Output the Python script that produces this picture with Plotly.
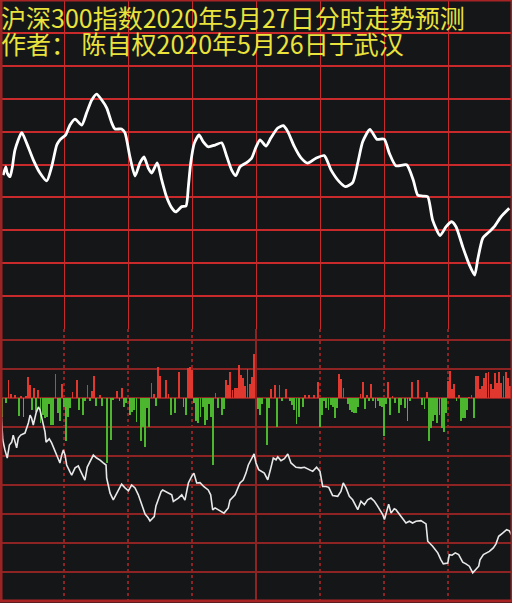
import plotly.graph_objects as go

# ---------------- data ----------------
title_line1 = "沪深300指数2020年5月27日分时走势预测"
title_line2 = "作者： 陈自权2020年5月26日于武汉"

# Upper panel: predicted intraday trend (grid units, 0..100, one grid = 10)
top_minutes = [1.5, 2.7, 3.4, 4.7, 5.8, 7.0, 10.2, 12.5, 15.6, 18.75, 21.9, 24.2, 26.6, 28.1,
               30.8, 32.8, 35.2, 38.3, 40.6, 43.0, 45.3, 47.7, 50.0, 52.4, 53.9, 57.0, 58.6,
               60.9, 63.3, 65.6, 67.5, 69.5, 71.1, 73.7, 75.8, 78.1, 80.5, 82.4, 85.2, 87.2,
               88.3, 89.4, 91.1, 93.3, 95.3, 97.6, 100.8, 103.9, 106.3, 108.6, 110.5, 112.5,
               115.6, 118.0, 120.0, 121.9, 124.7, 127.0, 130.2, 132.8, 134.9, 138.0, 141.1,
               144.2, 148.1, 152.0, 155.2, 159.0, 161.9, 165.3, 167.7, 170.0, 173.4, 176.6,
               180.1, 182.5, 185.6, 190.6, 193.7, 195.8, 198.1, 200.5, 202.8, 206.3, 209.1,
               211.7, 213.75, 216.9, 220.0, 222.5, 223.9, 226.3, 229.4, 231.7, 234.8, 238.7]
top_values = [46.8, 49.3, 47.4, 46.3, 49.3, 54.4, 59.7, 56.5, 51.4, 47.4, 45.0, 49.3, 55.9, 57.5,
              59.0, 62.0, 63.8, 62.0, 65.7, 69.6, 71.4, 69.6, 67.2, 62.6, 60.8, 60.8, 59.6,
              52.3, 46.5, 50.5, 52.3, 48.9, 47.4, 50.5, 45.3, 40.1, 36.8, 35.6, 37.2, 37.4,
              43.3, 50.5, 56.5, 59.0, 56.9, 55.4, 55.9, 56.6, 52.4, 48.3, 46.6, 49.3,
              50.6, 52.0, 55.3, 57.5, 55.6, 58.1, 61.1, 61.8, 60.0, 55.4, 52.0,
              50.4, 51.9, 52.7, 48.3, 44.8, 43.3, 44.5, 50.4, 56.9, 60.7, 57.7,
              57.7, 53.4, 49.6, 49.9, 45.3, 40.7, 40.4, 40.2, 33.1, 28.4, 31.1,
              32.6, 31.1, 25.0, 19.5, 16.4, 21.0, 27.6, 29.6, 31.1, 34.1, 36.7]

# Lower panel: per-minute buy/sell bars (grid units)
bar_minutes = [1, 3, 4, 5, 7, 9, 10, 11, 12, 13, 14, 15, 16, 17, 18, 19, 20, 21, 22, 23, 24, 25,
               26, 27, 28, 29, 30, 31, 32, 33, 34, 36, 37, 39, 40, 41, 42, 43, 44, 45, 47, 48,
               50, 52, 53, 55, 56, 57, 58, 59,
               61, 62, 63, 64, 66, 67, 68, 69, 70, 71, 72, 73, 74, 75, 78, 79, 80, 82, 84, 86,
               87, 88, 89, 90, 91, 92, 93, 94, 95, 96, 97, 98, 99, 100, 101, 102, 104, 105, 106,
               107, 108, 109, 110, 111, 112, 113, 114, 115, 116, 117, 118, 119,
               121, 122, 123, 125, 126, 127, 129, 130, 131, 132, 134, 136, 137, 138, 139, 140,
               142, 143, 145, 147, 149, 150, 151, 152, 153, 154, 155, 156, 157, 158, 159, 160,
               161, 163, 164, 165, 166, 167, 168, 169, 170, 171, 172, 173, 174, 175, 176, 177,
               178, 179,
               180, 181, 182, 183, 184, 185, 187, 188, 190, 191, 192, 193, 196, 198, 199, 200,
               201, 202, 203, 204, 205, 206, 207, 208, 209, 210, 211, 212, 213, 214, 215, 216,
               217, 218, 219, 220, 221, 222, 223, 224, 225, 226, 227, 228, 229, 230, 231, 232,
               233, 234, 235, 236, 237, 238, 239, 240]
bar_values = [-0.64, -0.18, 0.62, 0.13, 0.10, -0.61, 0.08, -0.64, 0.08, 0.71, 0.45, -0.41, 0.36,
              -0.47, 0.26, -0.87, -0.59, -0.70, -0.64, -0.20, -0.93, -0.93,
              0.82, -0.53, -0.79, 0.47, -0.30, -1.50, -0.64, -0.36, 0.22, 0.62, -0.41, -0.59,
              -0.12, 0.45, -0.10, 0.24, 0.77, -0.28, 0.10, -0.28,
              -2.25, -1.45, -0.07, 0.24, -0.12, 0.33, -0.30, -0.18,
              -0.59, -0.47, -0.41, -0.82, -1.50, -0.99, -1.68, -0.36, -0.99, 0.51, 0.13, -0.27,
              1.08, 0.77, 0.62, 0.13, -0.59, -0.53, 0.89, -0.30,
              -0.59, 1.02, 1.08, 0.97, -0.18, -0.79, -0.87, -0.67, -0.30, -0.93, -0.76, -0.20,
              -0.67, -2.31, 0.18, -0.33, -0.59, -0.38, 0.62,
              0.45, 0.91, 0.28, 0.36, 0.36, 1.14, 0.79, 0.68, 0.43, 1.00, 0.47, 0.74, 1.50,
              -0.38, -0.59, -0.20, -1.62, -0.36, 0.31, 0.45, -0.99, 0.45, -0.10, 0.31, -0.12,
              -0.24, -0.40, -0.91, -0.64,
              -0.30, 0.12, 0.10, 0.10, 0.56, -0.99, -0.60, -0.12, -0.36, -0.41, -0.25, -0.30,
              -0.70, -0.33, 0.82, 0.66,
              0.33, -0.20, -0.41, -0.47, -0.53, -0.53, -0.30, 0.15, 0.56, -0.38, 0.12, -0.10,
              0.47, -0.10, -0.33, -0.12,
              -0.26, -0.30,
              -1.30, -0.20, 0.56, -0.59, 0.08, -0.18, -0.53, -0.24, -0.33, -0.79, -0.10, 0.54,
              0.62, -0.24, -0.38, 0.22,
              -1.48, -1.02, -0.79, -0.59, -0.87, -0.60, -1.05, -1.16, -0.53, 0.59, 0.93, 0.31,
              0.47, -0.10, 0.10, -0.80,
              -0.69, -0.69, -0.41, 0.05, 0.10, -0.68, 0.76, 0.77, 0.31, 0.43, 0.68, 0.87, 0.89,
              0.47, 0.30, 0.87,
              0.50, 0.89, 0.51, 0.76, 0.89, 0.68, 0.40, -0.30]

# Lower panel: cumulative line (grid units)
low_minutes = [0, 0.8, 1.3, 2.3, 3.4, 4.4, 5.5, 6.2, 7.0, 7.8, 8.6, 9.7, 11.7, 12.5, 13.3, 14.1,
               14.8, 15.6, 16.9, 18.0, 18.75, 19.5, 21.1, 21.6, 23.1, 24.2, 25.0, 26.25, 27.3,
               28.1, 28.9, 29.7, 30.5, 31.25, 32.8, 33.6, 35.2, 36.7, 37.5, 39.1, 39.8, 40.9,
               42.2, 43.75, 45.3, 46.9, 48.4, 49.7, 50.0, 50.8, 51.6, 53.1, 54.7, 57.0, 58.6,
               60.2, 61.7, 63.3, 64.8, 68.0, 69.5, 70.3, 72.3, 73.1, 75.5, 76.25, 80.5, 81.25,
               83.6, 85.2, 86.7, 88.3, 89.8, 90.9, 92.2, 93.75, 95.6, 97.6, 98.75, 99.7, 100.8,
               103.1, 105.0, 107.0, 107.8, 110.2, 111.25, 112.5, 114.0, 115.3, 116.4, 118.0,
               119.1, 120.0, 121.25, 123.9, 125.5, 126.6, 128.1, 129.4, 130.2, 131.7, 133.3,
               134.9, 136.4, 138.75, 141.1, 142.7, 144.2, 146.6, 148.4, 150.0, 151.25, 152.8,
               154.1, 155.9, 158.3, 159.8, 160.9, 162.2, 163.75, 165.3, 167.7, 169.2, 170.8,
               172.3, 173.9, 175.5, 177.0, 179.4, 180.2, 181.25, 182.2, 183.3, 184.8, 185.6,
               187.2, 188.75, 190.3, 191.9, 193.4, 195.0, 197.3, 199.7, 200.5, 202.8, 205.2,
               206.7, 207.8, 209.9, 210.6, 211.9, 213.4, 215.0, 216.9, 218.4, 220.0, 221.6,
               223.1, 224.4, 225.0, 226.6, 229.4, 231.25, 232.5, 233.75, 235.6, 237.5, 238.75,
               239.7]
low_values = [0.2, -1.10, -1.45, -1.79, -2.07, -1.62, -1.52, -1.28, -1.55, -1.72, -1.38, -1.28,
              -1.21, -1.03, -0.86, -0.59, -0.69, -0.93, -0.52, -0.31, -0.41, -0.66, -1.17, -1.52,
              -1.41, -1.55, -1.69, -1.90, -2.07, -2.24, -1.97, -1.79, -1.97, -2.31, -2.55, -2.66,
              -2.41, -2.34, -2.48, -2.72, -2.83, -2.38, -2.21, -1.97, -2.07, -2.14, -2.24, -2.31,
              -2.76, -3.03, -3.28, -3.51, -3.28, -2.97, -3.10, -3.20, -3.00, -3.10, -3.33, -4.00,
              -4.14, -4.24, -4.09, -3.72, -3.23, -3.17, -3.34, -3.57, -3.45, -3.34, -3.52, -2.93,
              -2.71, -2.59, -2.93, -2.92, -3.06, -3.17, -3.34, -3.86, -3.79, -3.89, -3.97, -3.79,
              -3.52, -3.34, -3.17, -2.93, -2.83, -2.59, -2.31, -2.07, -1.93, -2.24, -2.47, -2.59,
              -2.82, -2.52, -2.07, -2.13, -2.03, -2.16, -2.09, -1.93, -2.24, -2.39, -2.41, -2.39,
              -2.44, -2.53, -2.39, -2.53, -3.05, -3.05, -3.08, -3.36, -3.39, -3.22, -2.93, -3.10,
              -3.39, -3.51, -3.85, -3.56, -3.68, -3.51, -3.45, -3.56, -3.73, -4.02, -4.19, -3.85,
              -3.66, -3.97, -3.82, -3.85, -4.02, -4.14, -4.31, -4.25, -4.31, -4.25, -4.23, -4.34,
              -4.94, -5.11, -5.34, -5.58, -5.72, -5.69, -5.40, -5.42, -5.34, -5.40, -5.66, -5.72,
              -5.80, -6.03, -5.89, -5.80, -5.58, -5.40, -5.29, -5.17, -5.03, -4.77, -4.66, -4.54,
              -4.58, -4.71]

time_ticks = [0, 30, 60, 90, 120, 150, 180, 210, 240]
top_ticks = [0, 10, 20, 30, 40, 50, 60, 70, 80, 90, 100]
low_ticks = [-7, -6, -5, -4, -3, -2, -1, 0, 1, 2]

# ---------------- style ----------------
BG = "#151618"
RED_TOP = "#c8292b"
RED_LOW = "#8e2323"
UP = "#e0372f"
DOWN = "#4cb62f"
YELLOW = "#e9e33c"

W, H = 512, 603
top_dom = [(H - 329) / H, 1.0]
low_dom = [(H - 601) / H, (H - 329) / H]

fig = go.Figure()
fig.add_trace(go.Scatter(
    x=top_minutes, y=top_values, mode="lines",
    line=dict(color="#ffffff", width=2.8, shape="spline", smoothing=0.6),
    xaxis="x", yaxis="y", hoverinfo="skip"))
fig.add_trace(go.Bar(
    x=bar_minutes, y=bar_values, width=0.9,
    marker=dict(color=[UP if v >= 0 else DOWN for v in bar_values], line=dict(width=0)),
    xaxis="x2", yaxis="y2", hoverinfo="skip"))
fig.add_trace(go.Scatter(
    x=low_minutes, y=low_values, mode="lines",
    line=dict(color="#e8e8e8", width=1.6),
    xaxis="x2", yaxis="y2", hoverinfo="skip"))

common_x = dict(range=[0, 240], tickvals=time_ticks, showticklabels=False, ticks="",
                zeroline=False, showline=False, fixedrange=True)

fig.update_layout(
    width=W, height=H, margin=dict(l=0, r=0, t=0, b=0),
    paper_bgcolor=BG, plot_bgcolor=BG, showlegend=False,
    xaxis=dict(domain=[0, 1], anchor="y", showgrid=True, gridcolor=RED_TOP, gridwidth=1,
               **common_x),
    yaxis=dict(domain=top_dom, anchor="x", range=[0, 100], tickvals=top_ticks,
               showticklabels=False, ticks="", showgrid=True, gridcolor=RED_TOP, gridwidth=2,
               zeroline=False, showline=False, fixedrange=True),
    xaxis2=dict(domain=[0, 1], anchor="y2", showgrid=True, gridcolor=RED_LOW, gridwidth=2,
                griddash="dot", **common_x),
    yaxis2=dict(domain=low_dom, anchor="x2", range=[-7, 2.379], tickvals=low_ticks,
                showticklabels=False, ticks="", showgrid=True, gridcolor=RED_LOW, gridwidth=2,
                zeroline=False, showline=False, fixedrange=True),
    bargap=0,
    shapes=[
        dict(type="line", xref="x2", yref="y2 domain", x0=120, x1=120, y0=0, y1=1,
             line=dict(color=RED_LOW, width=2), layer="below"),
        dict(type="line", xref="paper", yref="paper", x0=0.002, x1=0.002, y0=low_dom[0], y1=1,
             line=dict(color="#9a2424", width=3), layer="above"),
        dict(type="line", xref="paper", yref="paper", x0=0.999, x1=0.999, y0=low_dom[0], y1=1,
             line=dict(color="#9a2424", width=2), layer="above"),
        dict(type="line", xref="paper", yref="paper", x0=0, x1=1, y0=low_dom[0], y1=low_dom[0],
             line=dict(color="#a82424", width=3), layer="above"),
        dict(type="line", xref="paper", yref="paper", x0=0, x1=1, y0=0.999, y1=0.999,
             line=dict(color="#a82424", width=2), layer="above"),
    ],
    annotations=[
        dict(text=title_line1, xref="paper", yref="paper", x=0, y=1 - 17 / H,
             xanchor="left", yanchor="middle", showarrow=False, borderpad=0,
             font=dict(family="Noto Sans CJK SC", size=25, color=YELLOW)),
        dict(text=title_line2, xref="paper", yref="paper", x=0, y=1 - 43 / H,
             xanchor="left", yanchor="middle", showarrow=False, borderpad=0,
             font=dict(family="Noto Sans CJK SC", size=25, color=YELLOW)),
    ],
)

fig.write_html(
    "out.html",
    config={"displayModeBar": False, "staticPlot": True},
    post_script="document.body.style.margin='0';document.body.style.padding='0';"
                "document.body.style.background='" + BG + "';",
)
